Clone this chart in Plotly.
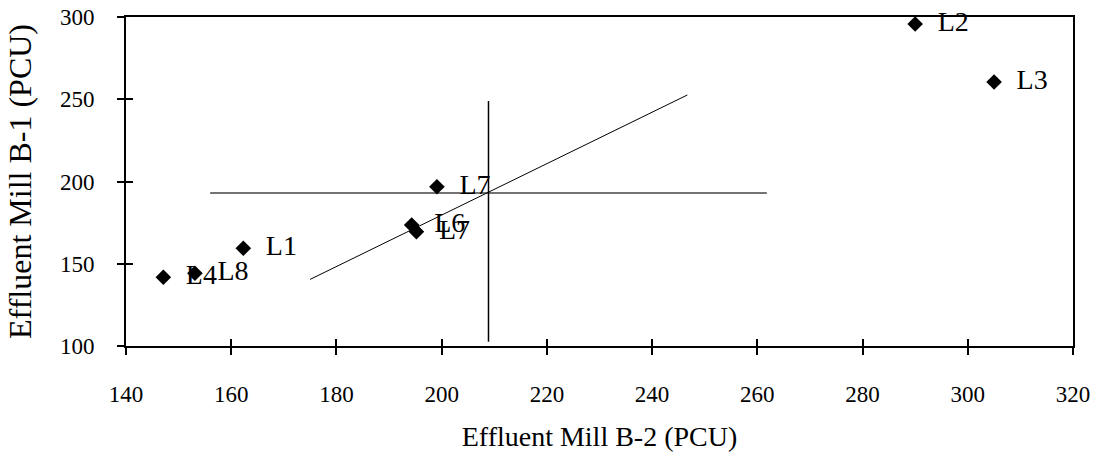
import plotly.graph_objects as go

# Data points (Effluent Mill B-2 vs B-1, PCU)
labels = ["L1", "L2", "L3", "L4", "L6", "L7", "L7", "L8"]
x_b2 = [162.3, 290.0, 305.0, 147.1, 194.3, 195.2, 199.1, 153.1]
y_b1 = [159.4, 295.7, 260.5, 141.8, 173.6, 169.5, 196.8, 144.2]

# Reference lines
hline_x = [156.0, 261.8]
hline_y = [193.0, 193.0]
vline_x = [208.9, 208.9]
vline_y = [102.6, 248.9]
reg_x = [175.0, 246.7]
reg_y = [140.5, 252.6]

x_ticks = [140, 160, 180, 200, 220, 240, 260, 280, 300, 320]
y_ticks = [100, 150, 200, 250, 300]

FONT = "Liberation Serif"

fig = go.Figure()
fig.add_trace(go.Scatter(x=hline_x, y=hline_y, mode="lines",
                         line=dict(color="#444444", width=1.5), showlegend=False))
fig.add_trace(go.Scatter(x=vline_x, y=vline_y, mode="lines",
                         line=dict(color="black", width=1.5), showlegend=False))
fig.add_trace(go.Scatter(x=reg_x, y=reg_y, mode="lines",
                         line=dict(color="black", width=1), showlegend=False))
fig.add_trace(go.Scatter(x=x_b2, y=y_b1, mode="markers+text", text=labels,
                         texttemplate="\u00a0\u00a0%{text}",
                         textposition="middle right",
                         textfont=dict(family=FONT, size=28, color="black"),
                         marker=dict(symbol="diamond", size=12, color="black"),
                         cliponaxis=False, showlegend=False))

tick_font = dict(family=FONT, size=23, color="black")

fig.update_layout(
    width=1101, height=457,
    margin=dict(l=126, r=28, t=17, b=111),
    paper_bgcolor="white", plot_bgcolor="white",
    font=dict(family=FONT, color="black"),
    xaxis=dict(range=[140, 320], tickvals=x_ticks, ticklabelstandoff=19,
               showgrid=False, zeroline=False, showline=True, linecolor="black",
               linewidth=2, ticks="outside", ticklen=7, tickwidth=1.5,
               tickcolor="black", mirror=True, automargin=False,
               tickfont=tick_font,
               title=dict(text="Effluent Mill B-2 (PCU)", standoff=21,
                          font=dict(family=FONT, size=28, color="black"))),
    yaxis=dict(range=[100, 300], tickvals=y_ticks, ticklabelstandoff=18,
               showgrid=False, zeroline=False, showline=True, linecolor="black",
               linewidth=2, ticks="outside", ticklen=7, tickwidth=1.5,
               tickcolor="black", mirror=True, automargin=False,
               tickfont=tick_font,
               title=dict(text="Effluent Mill B-1 (PCU)", standoff=19,
                          font=dict(family=FONT, size=32, color="black"))),
    xaxis2=dict(range=[140, 320], tickvals=x_ticks, overlaying="x",
                showticklabels=False, showgrid=False, zeroline=False, showline=False,
                ticks="inside", ticklen=7, tickwidth=1.5, tickcolor="black"),
    yaxis2=dict(range=[100, 300], tickvals=y_ticks, overlaying="y",
                showticklabels=False, showgrid=False, zeroline=False, showline=False,
                ticks="inside", ticklen=7, tickwidth=1.5, tickcolor="black"),
)
# dummy trace to activate overlay axes
fig.add_trace(go.Scatter(x=[None], y=[None], xaxis="x2", yaxis="y2",
                         showlegend=False, hoverinfo="skip"))

fig.write_html("out.html")
